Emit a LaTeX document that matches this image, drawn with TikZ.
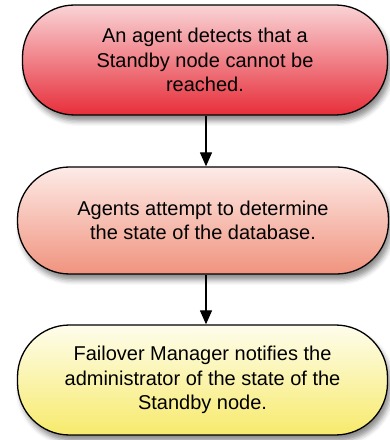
\documentclass[tikz,border=0pt]{standalone}
\usepackage{fontspec}
\setmainfont{Liberation Sans}
\usepackage{tikz}
\usetikzlibrary{arrows.meta, positioning, shadows.blur}
\tikzset{>={Triangle[width=12pt,length=14pt]}}
\definecolor{redtop}{HTML}{F9D4D6}
\definecolor{redbot}{HTML}{E72E3A}
\definecolor{salmontop}{HTML}{FDEBE7}
\definecolor{salmonbot}{HTML}{F0937E}
\definecolor{yellowtop}{HTML}{FEFDEC}
\definecolor{yellowbot}{HTML}{F7EA6C}
\tikzset{
  stepbox/.style={draw=black, line width=1.3pt, rounded corners=52pt,
    align=center, font=\fontsize{20}{24.5}\selectfont,
    blur shadow={shadow xshift=3pt, shadow yshift=-6pt, shadow blur radius=5pt, shadow opacity=45}},
}

\begin{document}
\begin{tikzpicture}[x=1pt,y=1pt]
            \useasboundingbox (0,0) rectangle (390,440);
            \node[stepbox, top color=redtop, bottom color=redbot,
                  minimum width=365pt, minimum height=110pt] (detect) at (205,380)
                  {An agent detects that a\\Standby node cannot be\\reached.};
            \node[stepbox, top color=salmontop, bottom color=salmonbot,
                  minimum width=371pt, minimum height=107pt] (state) at (203,219.5)
                  {Agents attempt to determine\\the state of the database.};
            \node[stepbox, top color=yellowtop, bottom color=yellowbot,
                  minimum width=370pt, minimum height=110pt] (notify) at (202.5,60)
                  {Failover Manager notifies the\\administrator of the state of the\\Standby node.};

            \draw[->, line width=1.3pt](detect.south -| 206,0) -- (state.north -| 206,0);
            \draw[->, line width=1.3pt](state.south -| 206,0) -- (notify.north -| 206,0);
\end{tikzpicture}
\end{document}
